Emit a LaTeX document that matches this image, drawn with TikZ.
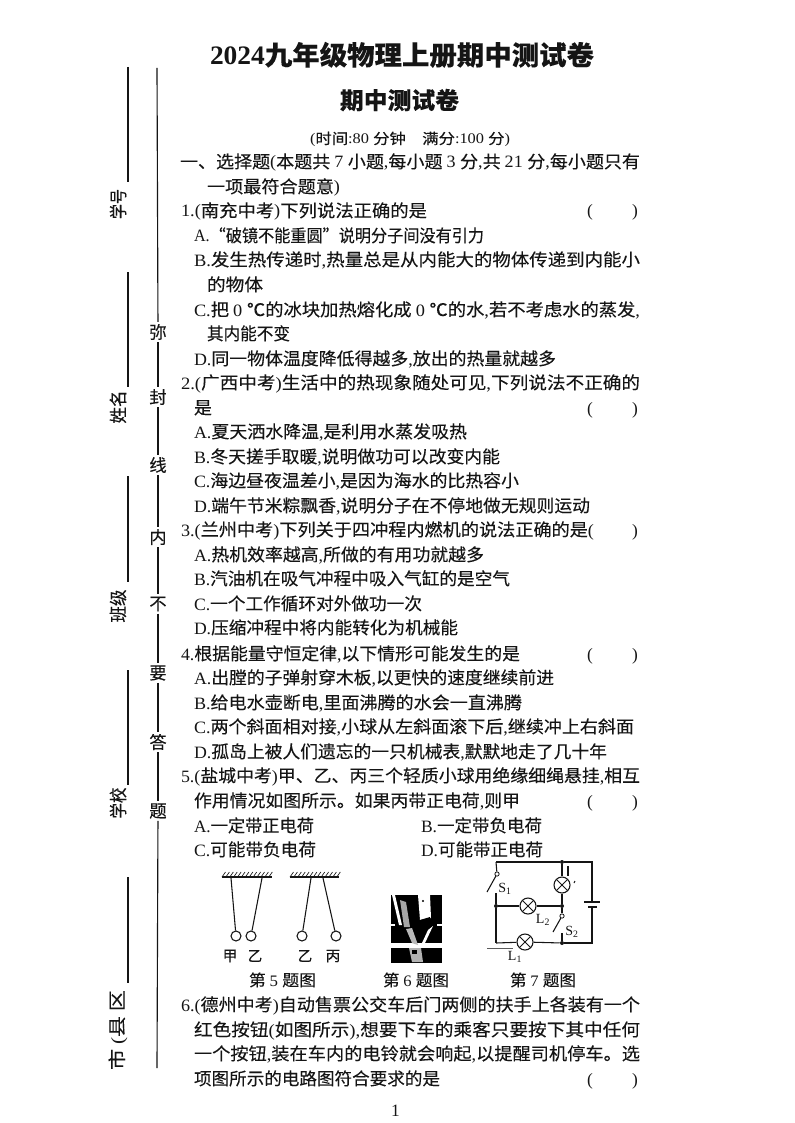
\documentclass[tikz,border=0pt]{standalone}
\usepackage{graphicx}
\usepackage{fontspec}
\setmainfont{Liberation Serif}
\newfontfamily\latf{Liberation Serif}
\newfontfamily\cjkf[FakeBold=0.12,BoldFeatures={FakeBold=0.01}]{Noto Sans CJK SC}
\XeTeXinterchartokenstate=1
\newXeTeXintercharclass\cjkclass
\newcount\cc
\cc="2E80
\loop\ifnum\cc<"A000 \XeTeXcharclass\cc=\cjkclass \advance\cc by 1 \repeat
\cc="FF00
\loop\ifnum\cc<"FFF0 \XeTeXcharclass\cc=\cjkclass \advance\cc by 1 \repeat
\XeTeXcharclass"201C=\cjkclass
\XeTeXcharclass"201D=\cjkclass
\XeTeXcharclass"2103=\cjkclass
\XeTeXinterchartoks 0 \cjkclass={\cjkf}
\XeTeXinterchartoks \cjkclass 0={\latf}
\XeTeXinterchartoks 4095 \cjkclass={\cjkf}
\XeTeXinterchartoks 4095 0={\latf}
\newsavebox\fitbox
\newcommand\fitw[2]{\sbox\fitbox{#2}\pgfmathsetmacro\fitsx{(#1)*0.75/\the\wd\fitbox}\scalebox{\fitsx}[1]{\usebox\fitbox}}
\definecolor{ink}{HTML}{151515}
\tikzset{
  bodytext/.style={anchor=base west,inner sep=0pt,outer sep=0pt,text=ink,font=\fontsize{13}{13}\selectfont},
  smalltext/.style={anchor=base west,inner sep=0pt,outer sep=0pt,text=ink,font=\fontsize{11}{11}\selectfont},
  sidelabel/.style={rotate=90,inner sep=0pt,text=ink,font=\fontsize{13.5}{13.5}\selectfont},
  sealchar/.style={inner sep=1.5pt,text=ink,font=\fontsize{13}{13}\selectfont},
  figtext/.style={inner sep=0pt,text=ink,font=\fontsize{11}{11}\selectfont},
  rule/.style={draw=ink,line width=0.85pt},
  wire/.style={draw=ink,line width=0.8pt},
  lamp/.style={circle,draw=ink,line width=0.8pt,minimum size=12pt,inner sep=0pt,
    path picture={\draw[ink,line width=0.7pt] (path picture bounding box.north west)--(path picture bounding box.south east)
      (path picture bounding box.north east)--(path picture bounding box.south west);}},
  junction/.style={circle,fill=ink,minimum size=3pt,inner sep=0pt},
  contact/.style={circle,draw=ink,line width=0.6pt,fill=white,minimum size=3.2pt,inner sep=0pt},
  ball/.style={circle,draw=ink,line width=0.8pt,minimum size=7.5pt,inner sep=0pt},
}
\newcommand\tl[5]{\node[bodytext] (#1) at (#2,#4+7) {\fitw{#3-#2}{#5}};}
\newcommand\paren[2]{\node[bodytext] (#1) at (587,#2+7) {\hbox to 38.25pt{(\hfill)}};}
\newcommand\ceiling[1]{\foreach \h in {0,...,12}{\draw[ink,line width=0.5pt] (#1+\h*3.9,877)--(#1+\h*3.9+3.5,872);}}
\begin{document}
\begin{tikzpicture}[x=0.75pt,y=-0.75pt]
\useasboundingbox (0,0) rectangle (794,1123);
\fill[white] (0,0) rectangle (794,1123);

% headings
\node[bodytext,font=\fontsize{20}{20}\selectfont\bfseries] (title) at (210,65) {\fitw{384}{2024九年级物理上册期中测试卷}};
\node[bodytext,font=\fontsize{17.5}{17.5}\selectfont\bfseries] (subtitle) at (340,109) {\fitw{119}{期中测试卷}};
\node[smalltext] (timeline) at (310,144) {\fitw{200}{(时间:80 分钟\quad 满分:100 分)}};

% question text
\tl{h1}{180}{640}{161}{一、选择题(本题共 7 小题,每小题 3 分,共 21 分,每小题只有}
\tl{h2}{207}{340}{186}{一项最符合题意)}
\tl{qa}{181}{427}{210}{1.(南充中考)下列说法正确的是}
\paren{pa}{210}
\tl{qaA}{194}{484}{235}{A.“破镜不能重圆”说明分子间没有引力}
\tl{qaB}{194}{640}{259}{B.发生热传递时,热量总是从内能大的物体传递到内能小}
\tl{qaBb}{207}{263}{284}{的物体}
\tl{qaC}{194}{640}{309}{C.把 0 ℃的冰块加热熔化成 0 ℃的水,若不考虑水的蒸发,}
\tl{qaCb}{207}{290}{333}{其内能不变}
\tl{qaD}{194}{556}{358}{D.同一物体温度降低得越多,放出的热量就越多}
\tl{qb}{181}{640}{382}{2.(广西中考)生活中的热现象随处可见,下列说法不正确的}
\tl{qbb}{194}{212}{407}{是}
\paren{pb}{407}
\tl{qbA}{194}{467}{431}{A.夏天洒水降温,是利用水蒸发吸热}
\tl{qbB}{194}{500}{456}{B.冬天搓手取暖,说明做功可以改变内能}
\tl{qbC}{194}{519}{480}{C.海边昼夜温差小,是因为海水的比热容小}
\tl{qbD}{194}{590}{505}{D.端午节米粽飘香,说明分子在不停地做无规则运动}
\tl{qc}{181}{594}{529}{3.(兰州中考)下列关于四冲程内燃机的说法正确的是(}
\node[bodytext] (pcr) at (632,536) {)};
\tl{qcA}{194}{484}{554}{A.热机效率越高,所做的有用功就越多}
\tl{qcB}{194}{510}{578}{B.汽油机在吸气冲程中吸入气缸的是空气}
\tl{qcC}{194}{422}{603}{C.一个工作循环对外做功一次}
\tl{qcD}{194}{458}{627}{D.压缩冲程中将内能转化为机械能}
\tl{qd}{181}{520}{653}{4.根据能量守恒定律,以下情形可能发生的是}
\paren{pd}{653}
\tl{qdA}{194}{554}{677}{A.出膛的子弹射穿木板,以更快的速度继续前进}
\tl{qdB}{194}{522}{702}{B.给电水壶断电,里面沸腾的水会一直沸腾}
\tl{qdC}{194}{634}{726}{C.两个斜面相对接,小球从左斜面滚下后,继续冲上右斜面}
\tl{qdD}{194}{607}{751}{D.孤岛上被人们遗忘的一只机械表,默默地走了几十年}
\tl{qe}{181}{640}{775}{5.(盐城中考)甲、乙、丙三个轻质小球用绝缘细绳悬挂,相互}
\tl{qeb}{194}{520}{800}{作用情况如图所示。如果丙带正电荷,则甲}
\paren{pe}{800}
\tl{qeA}{194}{314}{825}{A.一定带正电荷}
\tl{qeB}{421}{542}{825}{B.一定带负电荷}
\tl{qeC}{194}{316}{849}{C.可能带负电荷}
\tl{qeD}{421}{543}{849}{D.可能带正电荷}
\tl{qf}{181}{640}{1004}{6.(德州中考)自动售票公交车后门两侧的扶手上各装有一个}
\tl{qfb}{194}{640}{1029}{红色按钮(如图所示),想要下车的乘客只要按下其中任何}
\tl{qfc}{194}{640}{1053}{一个按钮,装在车内的电铃就会响起,以提醒司机停车。选}
\tl{qfd}{194}{440}{1078}{项图所示的电路图符合要求的是}
\paren{pf}{1078}
\node[bodytext] (pageno) at (391,1116) {1};

% binding margin: fill-in rules and labels
\node[sidelabel] (xuehao) at (118,204) {\fitw{30}{学号}};
\node[sidelabel] (xingming) at (118,407) {\fitw{33}{姓名}};
\node[sidelabel] (banji) at (118,606) {\fitw{33}{班级}};
\node[sidelabel] (xuexiao) at (118,803) {\fitw{31}{学校}};
\node[sidelabel] (shixian) at (118,1030) {\fitw{80}{市 (县 区}};
\foreach \n/\a/\b in {ra/67/182,rb/272/387,rc/476/582,rd/670/785,re/877/983}{
  \coordinate (\n t) at (128,\a); \coordinate (\n b) at (128,\b);
  \draw[rule,line width=1pt] (\n t)--(\n b);
}
\coordinate (sealtop) at (157,68);
\coordinate (sealbot) at (157,1068);
\node[sealchar] (mi) at (158,332) {弥};
\node[sealchar] (feng) at (158,397) {封};
\node[sealchar] (xian) at (158,465) {线};
\node[sealchar] (nei) at (158,537) {内};
\node[sealchar] (bu) at (158,604) {不};
\node[sealchar] (yao) at (158,673) {要};
\node[sealchar] (da) at (158,742) {答};
\node[sealchar] (ti) at (158,811) {题};
\draw[rule] (sealtop)--(mi);
\draw[rule] (mi)--(feng);
\draw[rule] (feng)--(xian);
\draw[rule] (xian)--(nei);
\draw[rule] (nei)--(bu);
\draw[rule] (bu)--(yao);
\draw[rule] (yao)--(da);
\draw[rule] (da)--(ti);
\draw[rule] (ti)--(sealbot);

% figure 5
\ceiling{222}
\ceiling{290}
\draw[wire,line width=1pt] (222,877)--(272,877);
\draw[wire,line width=1pt] (290,877)--(339,877);
\coordinate (sa) at (231,878); \coordinate (sb) at (262,878);
\coordinate (sc) at (311,878); \coordinate (sd) at (323,878);
\node[ball] (ba) at (236,936) {};
\node[ball] (bb) at (251,936) {};
\node[ball] (bc) at (302,936) {};
\node[ball] (bd) at (336,936) {};
\draw[wire] (sa)--(ba);
\draw[wire] (sb)--(bb);
\draw[wire] (sc)--(bc);
\draw[wire] (sd)--(bd);
\node[figtext] (la) at (230,956) {甲};
\node[figtext] (lb) at (255,956) {乙};
\node[figtext] (lc) at (305,956) {乙};
\node[figtext] (ld) at (333,956) {丙};
\node[smalltext,font=\fontsize{12}{12}\selectfont] (cap5) at (249,986) {\fitw{67}{第 5 题图}};
\node[smalltext,font=\fontsize{12}{12}\selectfont] (cap6) at (383,986) {\fitw{66}{第 6 题图}};
\node[smalltext,font=\fontsize{12}{12}\selectfont] (cap7) at (510,986) {\fitw{66}{第 7 题图}};

% figure 6: photograph
\fill[black] (391,895) rectangle (442,963);
\fill[white] (390,943) rectangle (443,948);
\fill[white] (390,924) rectangle (395,925.5);
\fill[white] (437,924) rectangle (443,925.5);
\fill[gray!70] (400,900)--(406,902)--(410,927)--(404,927)--cycle;
\fill[white] (392,895)--(395,895)--(402,925)--(399,925)--cycle;
\fill[white] (418,895)--(430,895)--(431,918)--(420,920)--cycle;
\fill[black] (420,920)--(430,917)--(430,927)--(421,929)--cycle;
\fill[black] (423,901) circle (1.2);
\fill[gray!55] (406,929)--(412,928)--(418,945)--(412,943)--cycle;
\fill[white] (428,930)--(433,926)--(425,943)--(422,943)--cycle;
\fill[gray!60] (409,948)--(421,948)--(423,962)--(412,962)--cycle;
\fill[black] (412,950) rectangle (417,954);

% figure 7: circuit
\node[junction] (jtop) at (562,862) {};
\node[junction] (jleft) at (496,906) {};
\node[junction] (jmid) at (562,906) {};
\node[junction] (jbot) at (562,943) {};
\coordinate (ctl) at (496,862);
\coordinate (ctr) at (592,862);
\coordinate (cbr) at (592,943);
\coordinate (cbl) at (496,943);
\coordinate (batA) at (592,902);
\coordinate (batB) at (592,907);
\node[contact] (swa) at (497,874) {};
\coordinate (swab) at (487,892);
\coordinate (swac) at (496,893);
\node[contact] (swb) at (562,916) {};
\coordinate (swbb) at (553,932);
\coordinate (swbc) at (562,933);
\node[lamp] (ltop) at (562,885) {};
\node[lamp] (lmid) at (528,906) {};
\node[lamp] (lbot) at (525,942) {};
\draw[wire,line width=1.1pt] (ctl)--(jtop);
\draw[wire] (jtop)--(ctr)--(batA);
\draw[wire] (batB)--(cbr)--(jbot);
\draw[wire] (ctl)--(swa);
\draw[wire] (swa)--(swab);
\draw[wire] (swac)--(jleft);
\draw[wire] (jleft)--(lmid);
\draw[wire,line width=1.1pt] (lmid)--(jmid);
\draw[wire] (jtop)--(ltop);
\draw[wire] (ltop)--(jmid);
\draw[wire] (jmid)--(swb);
\draw[wire] (swb)--(swbb);
\draw[wire] (swbc)--(jbot);
\draw[wire] (jbot)--(lbot);
\draw[wire] (jleft)--(cbl);
\draw[wire] (cbl)--(lbot);
\coordinate (pa) at (584,902); \coordinate (pb) at (600,902);
\coordinate (pc) at (588,907); \coordinate (pd) at (597,907);
\draw[wire] (pa)--(pb);
\draw[wire,line width=1.5pt] (pc)--(pd);
\coordinate (strayA) at (487,948); \coordinate (strayB) at (513,948);
\draw[wire,line width=0.6pt,ink!70] (strayA)--(strayB);
\coordinate (tickA) at (568,866); \coordinate (tickB) at (568,876);
\draw[wire] (tickA)--(tickB);
\coordinate (tickC) at (575,881); \coordinate (tickD) at (574,883);
\draw[wire] (tickC)--(tickD);
\node[figtext,font=\fontsize{10.5}{10.5}\selectfont] (ts1) at (505,889) {S\textsubscript{1}};
\node[figtext,font=\fontsize{10.5}{10.5}\selectfont] (tl2) at (543,920) {L\textsubscript{2}};
\node[figtext,font=\fontsize{10.5}{10.5}\selectfont] (ts2) at (572,932) {S\textsubscript{2}};
\node[figtext,font=\fontsize{10.5}{10.5}\selectfont] (tl1) at (515,957) {L\textsubscript{1}};
\end{tikzpicture}
\end{document}
